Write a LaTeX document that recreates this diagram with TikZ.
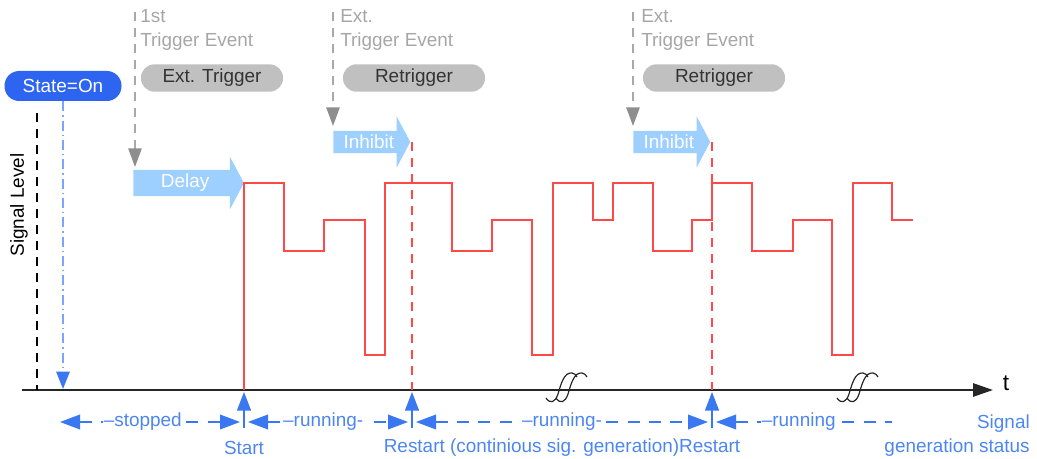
\documentclass[tikz,border=0pt]{standalone}
\usepackage{fontspec}
\setmainfont{Liberation Sans}
\usepackage{xcolor}
\usepackage{tikz}
\usetikzlibrary{arrows.meta,positioning,shapes.arrows}
\definecolor{stateBlue}{HTML}{2D64F0}
\definecolor{dimBlue}{HTML}{3A78F2}
\definecolor{textBlue}{HTML}{4C86F0}
\definecolor{dotBlue}{HTML}{7AA5FF}
\definecolor{blockBlue}{HTML}{9DCFFF}
\definecolor{trigGray}{HTML}{A8A8A8}
\definecolor{headGray}{HTML}{8E8E8E}
\definecolor{evGray}{HTML}{A6A6A6}
\definecolor{pillGray}{HTML}{C0C0C0}
\definecolor{sigRed}{HTML}{FF4848}

\begin{document}
\begin{tikzpicture}[x=0.75pt, y=-0.75pt,
  lbl/.style={font=\fontsize{14.2}{18.5}\selectfont},
  pill/.style={lbl, fill=pillGray, text=black!80, rounded corners=10pt, minimum width=106.5pt, minimum height=20.5pt, inner sep=0pt},
  evtext/.style={lbl, text=evGray, align=left, anchor=west, inner sep=0pt},
  trig/.style={draw=trigGray, line width=1.2pt, dash pattern=on 7pt off 5pt, -{Triangle[length=14pt,width=10pt,color=headGray]}},
  block/.style={lbl, single arrow, fill=blockBlue, text=white, single arrow tip angle=124, inner sep=1pt, anchor=tail},
  sig/.style={draw=sigRed, line width=1.1pt},
  restartline/.style={draw=sigRed, line width=1.4pt, dash pattern=on 7pt off 5pt},
  dim/.style={draw=dimBlue, line width=1.1pt, dash pattern=on 9pt off 7pt, >={Triangle[length=15pt,width=11pt]}},
  upar/.style={draw=dimBlue, line width=1.1pt, -{Triangle[length=14pt,width=10.5pt]}},
  dimlabel/.style={lbl, text=textBlue, fill=white, inner sep=1pt},
  status/.style={lbl, text=textBlue, inner sep=0pt},
  breakmark/.style={draw=black!85, line width=0.9pt}
]
  \useasboundingbox (0,0) rectangle (1037,459);

  % axes
  \coordinate (origin) at (22,390);
  \coordinate (tend) at (993,390);
  \draw[black!85, line width=1.4pt, -{Triangle[length=15pt,width=10pt]}] (origin) -- (tend);
  \node[font=\fontsize{17}{20}\selectfont, inner sep=0pt] (tlabel) at (1006,383) {t};
  \coordinate (levelTop) at (37,113);
  \draw[black, line width=1.1pt, dash pattern=on 7pt off 5pt] (levelTop) -- (levelTop |- origin);
  \node[lbl, rotate=90, inner sep=0pt] (level) at (19,205) {Signal Level};

  % state on
  \node[lbl, fill=stateBlue, text=white, rounded corners=11pt, minimum width=87.75pt, minimum height=22.5pt, inner sep=0pt] (stateon) at (63,86) {State=On};
  \coordinate (stateEnd) at (63,389);
  \draw[draw=dotBlue, line width=1.2pt, dash pattern=on 7.5pt off 3pt on 1pt off 3pt, -{Triangle[length=13pt,width=10pt,color=dimBlue]}] (stateon) -- (stateEnd);

  % trigger events
  \node[evtext] (evA) at (140,30) {1st\\Trigger Event};
  \node[evtext] (evB) at (340,30) {Ext.\\Trigger Event};
  \node[evtext] (evC) at (641,30) {Ext.\\Trigger Event};
  \node[pill] (exttrig) at (212,78) {Ext. Trigger};
  \node[pill] (retrigA) at (414,78) {Retrigger};
  \node[pill] (retrigB) at (714,78) {Retrigger};

  \node[block, minimum height=83pt, minimum width=39.75pt, single arrow head extend=8pt] (delay) at (133,183) {Delay};
  \node[block, minimum height=57.75pt, minimum width=38.25pt, single arrow head extend=8.25pt] (inhibitA) at (333,142) {Inhibit};
  \node[block, minimum height=57.75pt, minimum width=38.25pt, single arrow head extend=8.25pt] (inhibitB) at (633,142) {Inhibit};

  \coordinate (trigA) at (135,12);
  \coordinate (trigB) at (333,12);
  \coordinate (trigC) at (633,12);
  \draw[trig] (trigA) -- (135,167);
  \draw[trig] (trigB) -- (333,126);
  \draw[trig] (trigC) -- (633,126);

  % signal
  \draw[sig] (244,390) |- (284,183) |- (324,251) |- (365,220) |- (385,355) |- (452,183) |- (492,251) |- (532,220) |- (553,355)
    |- (593,183) |- (613,220) |- (653,183) |- (692,251) |- (712,220) |- (752,183) |- (793,251) |- (832,220) |- (853,355)
    |- (892,183) |- (913,220);

  % break marks
  \foreach \bx in {561,571,852,862}
    \draw[breakmark] (\bx-15,398) .. controls (\bx-11,404) and (\bx-6,403) .. (\bx-3,394)
      .. controls (\bx,384) and (\bx+3,372) .. (\bx+11,373) .. controls (\bx+13,373) and (\bx+15,375) .. (\bx+16,377);

  % start / restart
  \foreach \x/\n in {244/start,412/restartA,712/restartB}{
    \coordinate (\n) at (\x,392);
    \coordinate (\n-foot) at (\x,428);
    \draw[upar] (\n-foot) -- (\n);
  }
  \draw[restartline] (restartA |- inhibitA.tip) -- (restartA |- origin);
  \draw[restartline] (restartB |- inhibitB.tip) -- (restartB |- origin);

  % generation status
  \coordinate (stopL) at (60,422);
  \coordinate (runEnd) at (892,422);
  \draw[dim, <->] (stopL) -- node[dimlabel, pos=0.46]{–stopped} ([xshift=-3pt]start |- stopL);
  \draw[dim, <->] ([xshift=3pt]start |- stopL) -- node[dimlabel, pos=0.47]{–running-} ([xshift=-3pt]restartA |- stopL);
  \draw[dim, <->] ([xshift=3pt]restartA |- stopL) -- node[dimlabel]{–running-} ([xshift=-3pt]restartB |- stopL);
  \draw[dim, <-] ([xshift=3pt]restartB |- stopL) -- node[dimlabel, pos=0.47]{–running} (runEnd);

  \node[status] (startlbl) at (244,448) {Start};
  \node[status] (restartlbl) at (562,448) {Restart (continious sig. generation)Restart};
  \node[status, align=right, anchor=east, font=\fontsize{14.2}{18}\selectfont] (genstatus) at (1030,436) {Signal\\generation status};
\end{tikzpicture}
\end{document}
